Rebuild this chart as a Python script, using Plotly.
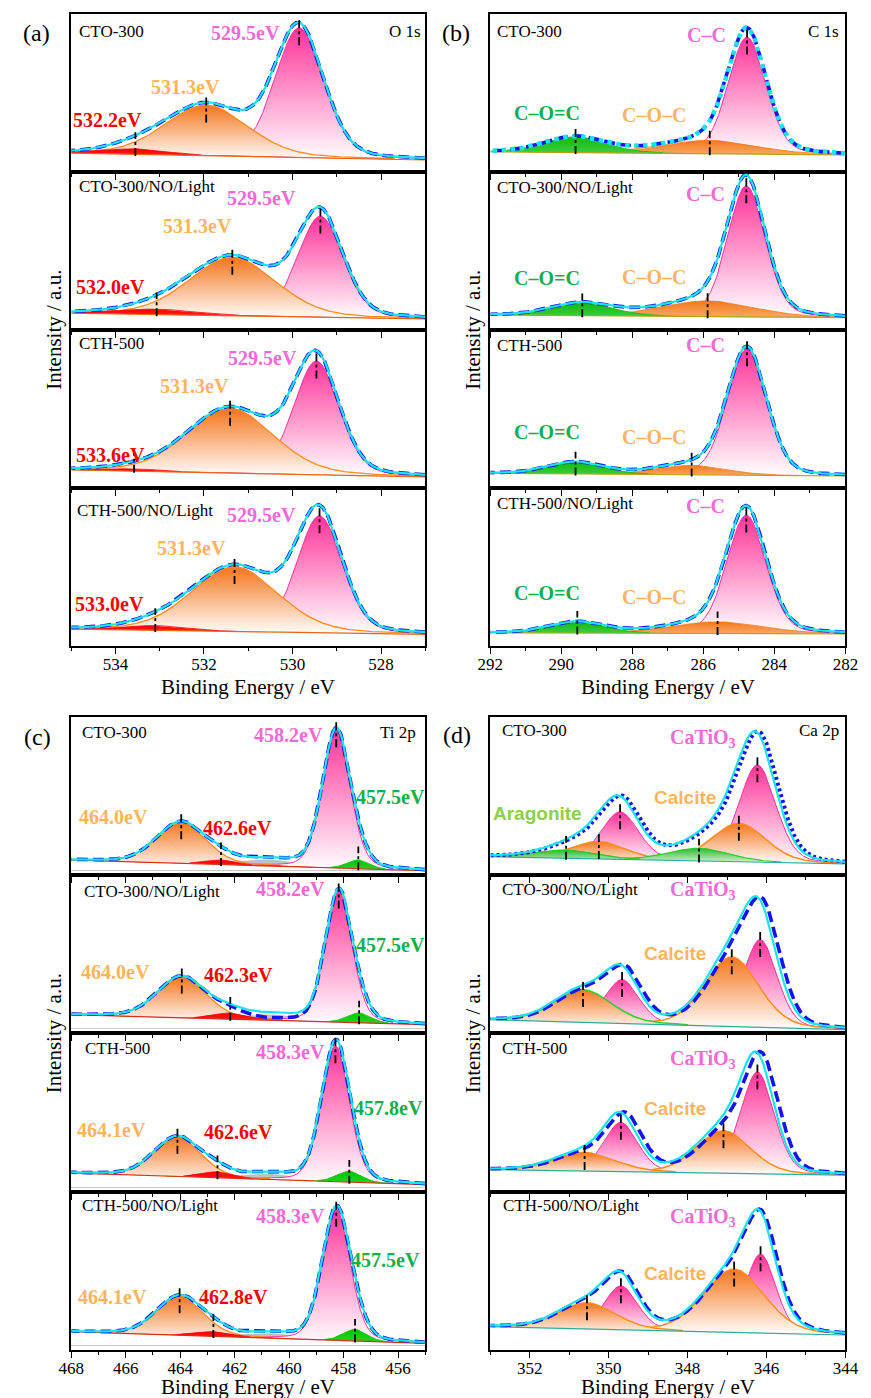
import numpy as np
import plotly.graph_objects as go

# ======================= data =======================
SAMPLES = ["CTO-300", "CTO-300/NO/Light", "CTH-500", "CTH-500/NO/Light"]

# ---- (a) O 1s : components = [529.5 eV (pink), 531.3 eV (orange), high-BE O (red)]
O1S_PEAK_NAMES = [["529.5eV", "531.3eV", "532.2eV"],
                  ["529.5eV", "531.3eV", "532.0eV"],
                  ["529.5eV", "531.3eV", "533.6eV"],
                  ["529.5eV", "531.3eV", "533.0eV"]]
O1S_CENTER = [[529.85, 531.95, 533.55],
              [529.37, 531.36, 533.07],
              [529.46, 531.41, 533.58],
              [529.39, 531.31, 533.10]]
O1S_HEIGHT = [[0.82, 0.32, 0.035],
              [0.64, 0.37, 0.035],
              [0.72, 0.41, 0.015],
              [0.74, 0.41, 0.030]]
O1S_FWHM = [[1.30, 2.20, 1.60],
            [1.20, 2.30, 2.00],
            [1.20, 2.30, 1.50],
            [1.20, 2.30, 1.60]]
O1S_BG_HIGH_BE = [0.120, 0.106, 0.114, 0.107]
O1S_BG_LOW_BE = [0.076, 0.070, 0.070, 0.074]

# ---- (b) C 1s : components = [C–C, C–O–C, C–O=C]
C1S_PEAK_NAMES = ["C–C", "C–O–C", "C–O=C"]
C1S_CENTER = [[284.77, 285.82, 289.60],
              [284.79, 285.88, 289.41],
              [284.77, 286.33, 289.60],
              [284.79, 285.60, 289.55]]
C1S_HEIGHT = [[0.74, 0.085, 0.100],
              [0.83, 0.100, 0.080],
              [0.80, 0.060, 0.075],
              [0.75, 0.074, 0.070]]
C1S_FWHM = [[1.25, 3.0, 2.0],
            [1.25, 3.0, 2.0],
            [1.30, 2.2, 1.8],
            [1.30, 3.0, 1.8]]
C1S_BG_HIGH_BE = [0.128, 0.095, 0.093, 0.084]
C1S_BG_LOW_BE = [0.108, 0.078, 0.076, 0.076]

# ---- (c) Ti 2p : components = [Ti4+ 2p3/2, Ti3+ 2p3/2, Ti4+ 2p1/2, Ti3+ 2p1/2, satellite]
TI_PEAK_NAMES = [["458.2eV", "457.5eV", "464.0eV", "462.6eV"],
                 ["458.2eV", "457.5eV", "464.0eV", "462.3eV"],
                 ["458.3eV", "457.8eV", "464.1eV", "462.6eV"],
                 ["458.3eV", "457.5eV", "464.1eV", "462.8eV"]]
TI_CENTER = [[458.27, 457.46, 463.96, 462.50, 460.70],
             [458.18, 457.43, 463.94, 462.16, 460.60],
             [458.30, 457.79, 464.10, 462.63, 460.60],
             [458.27, 457.58, 464.02, 462.78, 460.60]]
TI_HEIGHT = [[0.875, 0.055, 0.263, 0.029, 0.040],
             [0.830, 0.062, 0.263, 0.039, 0.035],
             [0.855, 0.068, 0.252, 0.038, 0.035],
             [0.830, 0.074, 0.249, 0.030, 0.030]]
TI_FWHM = [[1.20, 0.95, 2.10, 1.30, 2.40],
           [1.15, 1.00, 2.10, 1.40, 2.40],
           [1.20, 1.05, 2.00, 1.30, 2.20],
           [1.20, 1.00, 2.00, 1.50, 2.20]]
TI_BG_HIGH_BE = [0.065, 0.086, 0.090, 0.086]
TI_BG_LOW_BE = [-0.003, 0.023, 0.016, 0.012]
TI_RAW_WEIGHTS = [[1, 1, 1, 1, 1], [1, 1, 1, 1, 0], [1, 1, 1, 1, 1], [1, 1, 1, 1, 1]]

# ---- (d) Ca 2p : components = [CaTiO3 2p3/2, CaTiO3 2p1/2, calcite 2p3/2,
#                                calcite 2p1/2, aragonite 2p3/2, aragonite 2p1/2]
CA_PEAK_NAMES = ["CaTiO<sub>3</sub>", "Calcite", "Aragonite"]
CA_CENTER = [[346.23, 349.71, 346.70, 350.25, 347.71, 351.08],
             [346.16, 349.66, 346.88, 350.65, 347.70, 351.10],
             [346.23, 349.69, 347.09, 350.61, 347.70, 351.10],
             [346.15, 349.69, 346.82, 350.55, 347.70, 351.10]]
CA_HEIGHT = [[0.615, 0.300, 0.243, 0.110, 0.080, 0.052],
             [0.555, 0.277, 0.440, 0.207, 0.000, 0.000],
             [0.640, 0.310, 0.267, 0.117, 0.000, 0.000],
             [0.500, 0.277, 0.400, 0.165, 0.000, 0.000]]
CA_FWHM = [[1.10, 1.10, 1.60, 1.60, 1.80, 1.80],
           [1.00, 1.00, 1.60, 1.70, 1.80, 1.80],
           [1.00, 1.00, 1.60, 1.80, 1.80, 1.80],
           [0.90, 1.00, 1.80, 1.70, 1.80, 1.80]]
CA_BG_HIGH_BE = [0.116, 0.084, 0.141, 0.148]
CA_BG_LOW_BE = [0.070, 0.021, 0.106, 0.095]
CA_RAW_SHIFT = [0.08, 0.10, 0.12, 0.05]

# ======================= layout / style (not data) =======================
W, H = 871, 1398
SERIF = "Liberation Serif, Times New Roman, serif"
SANS = "Liberation Sans, Arial, sans-serif"
COLS = [(60, 425), (492, 858)]
ROW_EDGES = [[14, 172, 330, 488, 646], [717, 875, 1033, 1192, 1350]]

PINK_T, ORANGE_T, RED_T, GREEN_T, ARAG_T = "#F468D8", "#FDB45C", "#F70000", "#14AE4C", "#8BD048"

PINK = dict(top="#FF3399", bottom="#FFFFFF", line="#FF3399", lw=1.0)
ORANGE = dict(top="#F5751C", bottom="#FFFFFF", line="#FF8A1F", lw=1.3)
RED = dict(top="#FF0000", bottom="#FF2A2A", line="#FF0000", lw=0.8)
GREEN_B = dict(top="#12B812", bottom="#3FD03F", line="#12B812", lw=0.8)
ORANGE_B = dict(top="#F4781C", bottom="#FAAA66", line="#F4781C", lw=0.8)
GREEN_C = dict(top="#00C400", bottom="#2BD62B", line="#00C400", lw=0.8)
GRAY = dict(top="#BDBDBD", bottom="#C9C9C9", line="#BDBDBD", lw=0.5)
GREEN_D = dict(top="#2DB82D", bottom="#E6F7E6", line="#22CC22", lw=1.2)
ORANGE_D = dict(top="#F5751C", bottom="#FFFFFF", line="#FF8A1F", lw=1.5)

O1S_LABEL_XY = [[(240, 33), (178, 87), (97, 120)],
                [(256, 198), (190, 226), (101, 287)],
                [(257, 358), (187, 386), (100, 455)],
                [(256, 515), (184, 548), (99, 604)]]
O1S_SAMPLE_XY = [(66, 32), (66, 186), (66, 343), (64, 510)]
C1S_LABEL_XY = [[(715, 35), (661, 115), (550, 113)],
                [(714, 194), (661, 277), (550, 278)],
                [(714, 345), (661, 437), (550, 432)],
                [(714, 506), (661, 597), (550, 593)]]
C1S_SAMPLE_XY = [(497, 32), (497, 188), (497, 345), (497, 503)]
TI_LABEL_XY = [[(284, 735), (389, 797), (104, 817), (231, 828)],
               [(286, 889), (389, 945), (106, 972), (232, 975)],
               [(286, 1052), (387, 1108), (102, 1130), (232, 1132)],
               [(286, 1216), (384, 1260), (103, 1297), (227, 1297)]]
TI_SAMPLE_XY = [(69, 732), (71, 891), (72, 1048), (69, 1205)]
CA_LABEL_XY = [[(711, 738), (693, 797), (541, 813)],
               [(711, 890), (682, 953)],
               [(711, 1059), (682, 1108)],
               [(711, 1217), (682, 1273)]]
CA_SAMPLE_XY = [(502, 730), (502, 889), (502, 1048), (503, 1205)]


def gl(x, c, h, w, m=0.2):
    d = (x - c) / w
    return h * ((1 - m) * np.exp(-4 * np.log(2) * d * d) + m / (1 + 4 * d * d))


PANELS = [
    dict(col=0, half=0, xr=(535, 527), centers=O1S_CENTER, heights=O1S_HEIGHT, fwhms=O1S_FWHM,
         bg_hi=O1S_BG_HIGH_BE, bg_lo=O1S_BG_LOW_BE, styles=[PINK, ORANGE, RED], order=[0, 1, 2],
         marks=[0, 1, 2], y0=0.0, shift=[0, 0, 0, 0], weights=None, base_color="#E8641A",
         labels=[[(O1S_PEAK_NAMES[s][j], [PINK_T, ORANGE_T, RED_T][j], SERIF) + O1S_LABEL_XY[s][j]
                  for j in range(3)] for s in range(4)],
         sample_xy=O1S_SAMPLE_XY, core="O 1s", letter="(a)", letter_xy=(24, 33), core_xy=(423, 32)),
    dict(col=1, half=0, xr=(292, 282), centers=C1S_CENTER, heights=C1S_HEIGHT, fwhms=C1S_FWHM,
         bg_hi=C1S_BG_HIGH_BE, bg_lo=C1S_BG_LOW_BE, styles=[PINK, ORANGE_B, GREEN_B], order=[0, 1, 2],
         marks=[0, 1, 2], y0=0.0, shift=[0, 0, 0, 0], weights=None, base_color="#B9A21A",
         labels=[[(C1S_PEAK_NAMES[j], [PINK_T, ORANGE_T, GREEN_T][j], SERIF) + C1S_LABEL_XY[s][j]
                  for j in range(3)] for s in range(4)],
         sample_xy=C1S_SAMPLE_XY, core="C 1s", letter="(b)", letter_xy=(457, 33), core_xy=(853, 32)),
    dict(col=0, half=1, xr=(468, 455), centers=TI_CENTER, heights=TI_HEIGHT, fwhms=TI_FWHM,
         bg_hi=TI_BG_HIGH_BE, bg_lo=TI_BG_LOW_BE, styles=[PINK, GREEN_C, ORANGE, RED, GRAY],
         order=[4, 0, 2, 3, 1], marks=[0, 1, 2, 3], y0=-0.03, shift=[0, 0, 0, 0],
         weights=TI_RAW_WEIGHTS, base_color="#D8301E",
         labels=[[(TI_PEAK_NAMES[s][j], [PINK_T, GREEN_T, ORANGE_T, RED_T][j], SERIF) + TI_LABEL_XY[s][j]
                  for j in range(4)] for s in range(4)],
         sample_xy=TI_SAMPLE_XY, core="Ti 2p", letter="(c)", letter_xy=(25, 737), core_xy=(417, 732)),
    dict(col=1, half=1, xr=(353, 344), centers=CA_CENTER, heights=CA_HEIGHT, fwhms=CA_FWHM,
         bg_hi=CA_BG_HIGH_BE, bg_lo=CA_BG_LOW_BE,
         styles=[PINK, PINK, ORANGE_D, ORANGE_D, GREEN_D, GREEN_D],
         order=[0, 1, 2, 3, 4, 5], marks=[0, 1, 2, 3, 4, 5], y0=0.0, shift=CA_RAW_SHIFT,
         weights=None, base_color="#2AAE9C",
         labels=[[(CA_PEAK_NAMES[j], [PINK_T, ORANGE_T, ARAG_T][j], SERIF if j == 0 else SANS)
                  + CA_LABEL_XY[s][j] for j in range(len(CA_LABEL_XY[s]))] for s in range(4)],
         sample_xy=CA_SAMPLE_XY, core="Ca 2p", letter="(d)", letter_xy=(458, 735), core_xy=(853, 730)),
]

OUTLINE_OVERRIDE = {(3, 1, 3): "#33CC33"}   # (panel, sample, component) -> outline colour

fig = go.Figure()
layout = {}
annotations = []


def ann(text, px, py, font, xanchor="center", textangle=0):
    annotations.append(dict(text=text, x=px / W, y=1 - py / H, xref="paper", yref="paper",
                            xanchor=xanchor, yanchor="middle", showarrow=False, font=font,
                            textangle=textangle))


k = 0
for pi, P in enumerate(PANELS):
    x0px, x1px = COLS[P["col"]]
    edges = ROW_EDGES[P["half"]]
    xhi, xlo = P["xr"]
    x = np.linspace(xlo, xhi, 700)
    for s in range(4):
        k += 1
        xr_ = "x" if k == 1 else f"x{k}"
        yr_ = "y" if k == 1 else f"y{k}"
        base = P["bg_lo"][s] + (P["bg_hi"][s] - P["bg_lo"][s]) * (x - xlo) / (xhi - xlo)
        cs, hs, ws = P["centers"][s], P["heights"][s], P["fwhms"][s]
        comps = [gl(x, c, h, w) for c, h, w in zip(cs, hs, ws)]
        env = base + np.sum(comps, axis=0)
        wts = P["weights"][s] if P["weights"] else [1] * len(cs)
        sh = P["shift"][s]
        raw = base + np.sum([wt * gl(x + sh, c, h, w) for wt, c, h, w in zip(wts, cs, hs, ws)], axis=0)

        for j in P["order"]:
            if hs[j] <= 0:
                continue
            st = P["styles"][j]
            top = base + comps[j]
            fig.add_trace(go.Scatter(
                x=np.concatenate([x, x[::-1]]), y=np.concatenate([top, base[::-1]]),
                xaxis=xr_, yaxis=yr_, mode="lines", fill="toself", line=dict(width=0),
                fillgradient=dict(type="vertical", colorscale=[[0, st["bottom"]], [1, st["top"]]]),
                hoverinfo="skip", showlegend=False))
            yline = np.where(comps[j] > 0.004, top, np.nan)
            lc = OUTLINE_OVERRIDE.get((pi, s, j), st["line"])
            fig.add_trace(go.Scatter(x=x, y=yline, xaxis=xr_, yaxis=yr_, mode="lines",
                                     line=dict(color=lc, width=st["lw"]), hoverinfo="skip",
                                     showlegend=False))
        fig.add_trace(go.Scatter(x=x, y=base, xaxis=xr_, yaxis=yr_, mode="lines",
                                 line=dict(color=P["base_color"], width=1.2), hoverinfo="skip",
                                 showlegend=False))
        raw_dash, raw_w = ("3px,3px", 4.0) if (pi == 3 and s == 0) else ("11px,5px", 3.6)
        fig.add_trace(go.Scatter(x=x, y=raw, xaxis=xr_, yaxis=yr_, mode="lines",
                                 line=dict(color="#1414EE", width=raw_w, dash=raw_dash),
                                 hoverinfo="skip", showlegend=False))
        env_dash, env_w = ("dot", 4.5) if (pi == 1 and s == 0) else ("solid", 2.2)
        fig.add_trace(go.Scatter(x=x, y=env, xaxis=xr_, yaxis=yr_, mode="lines",
                                 line=dict(color="#19E3F0", width=env_w, dash=env_dash),
                                 hoverinfo="skip", showlegend=False))
        # dash-dot peak-position markers
        for j in P["marks"]:
            if hs[j] <= 0:
                continue
            c = cs[j]
            bc = P["bg_lo"][s] + (P["bg_hi"][s] - P["bg_lo"][s]) * (c - xlo) / (xhi - xlo)
            topc = bc + hs[j]
            lo = max(topc - 0.11, bc - 0.01)
            hi = max(topc + 0.06, lo + 0.15)
            fig.add_trace(go.Scatter(x=[c, c], y=[lo, hi], xaxis=xr_, yaxis=yr_, mode="lines",
                                     line=dict(color="black", width=1.8, dash="8px,3px,3px,3px"),
                                     hoverinfo="skip", showlegend=False))

        show_lbl = (s == 3)
        layout["xaxis" if k == 1 else f"xaxis{k}"] = dict(
            domain=[x0px / W, x1px / W], range=[xhi, xlo], anchor=yr_,
            showline=True, mirror=True, linecolor="black", linewidth=1.5,
            ticks="outside", ticklen=6, tickwidth=1.3, tickcolor="black", tick0=0, dtick=2,
            minor=dict(dtick=1, ticks="outside", ticklen=3.5, tickwidth=1.2, tickcolor="black"),
            showgrid=False, zeroline=False, showticklabels=show_lbl, ticklabelstandoff=-4,
            tickfont=dict(family=SERIF, size=17, color="black"))
        layout["yaxis" if k == 1 else f"yaxis{k}"] = dict(
            domain=[1 - edges[s + 1] / H, 1 - edges[s] / H], range=[P["y0"], P["y0"] + 1],
            anchor=xr_, showline=True, mirror=True, linecolor="black", linewidth=1.5,
            ticks="", showticklabels=False, showgrid=False,
            zeroline=(P["y0"] < 0), zerolinecolor="#C8C8C8", zerolinewidth=1)

        # texts
        sx, sy = P["sample_xy"][s]
        ann(SAMPLES[s], sx, sy, dict(family=SERIF, size=17, color="black"), xanchor="left")
        for (txt, col, fam, lx, ly) in P["labels"][s]:
            size = 19 if fam == SANS else 20
            ann(f"<b>{txt}</b>", lx, ly, dict(family=fam, size=size, color=col))

    ann(P["core"], P["core_xy"][0], P["core_xy"][1], dict(family=SERIF, size=17, color="black"),
        xanchor="right")
    lx, ly = P["letter_xy"]
    ann(P["letter"], lx, ly, dict(family=SERIF, size=24, color="black"))
    cx = (x0px + x1px) / 2
    title_y = edges[4] + (41 if P["half"] == 0 else 37)
    ann("Binding Energy / eV", cx, title_y, dict(family=SERIF, size=21, color="black"))
    ann("Intensity / a.u.", x0px - 18, (edges[0] + edges[4]) / 2,
        dict(family=SERIF, size=21, color="black"), textangle=-90)

layout.update(dict(width=W, height=H, margin=dict(l=0, r=0, t=0, b=0),
                   paper_bgcolor="white", plot_bgcolor="rgba(0,0,0,0)",
                   showlegend=False, annotations=annotations))
fig.update_layout(**layout)
# remove the browser's default 8px body margin so the figure sits at the window origin
fig.write_html("out.html", config={"displayModeBar": False},
               post_script="document.body.style.margin='0';document.body.style.overflow='hidden';")
